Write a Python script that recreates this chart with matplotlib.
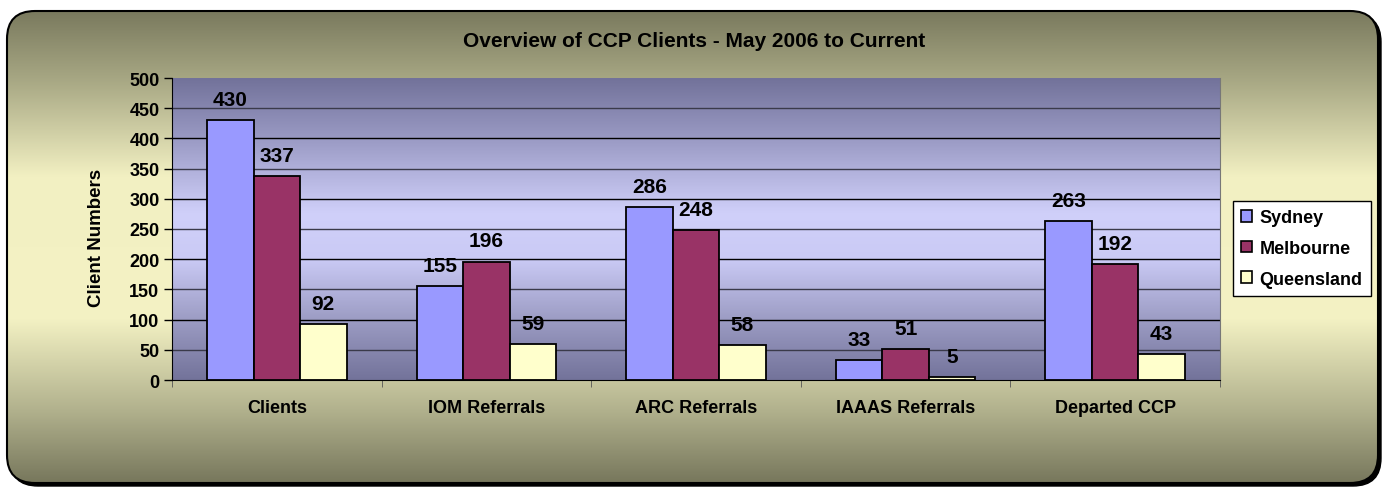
import matplotlib.pyplot as plt
from matplotlib.patches import FancyBboxPatch, Patch
import numpy as np

categories = ["Clients", "IOM Referrals", "ARC Referrals", "IAAAS Referrals", "Departed CCP"]
sydney = [430, 155, 286, 33, 263]
melbourne = [337, 196, 248, 51, 192]
queensland = [92, 59, 58, 5, 43]
series_names = ["Sydney", "Melbourne", "Queensland"]
series_colors = ["#9999ff", "#993366", "#ffffcc"]

plt.rcParams['font.family'] = ['Liberation Sans', 'DejaVu Sans']
plt.rcParams['font.weight'] = 'bold'

W, H = 1388, 489
fig = plt.figure(figsize=(W / 100, H / 100), dpi=100)
fig.patch.set_facecolor('white')


def vgrad(stops, colors, n=400):
    # vertical gradient, row 0 = top
    t = np.linspace(0, 1, n)
    cols = np.array([[int(c[i:i + 2], 16) / 255 for i in (1, 3, 5)] for c in colors])
    img = np.stack([np.interp(t, stops, cols[:, k]) for k in range(3)], axis=-1)
    return np.repeat(img[:, None, :], 2, axis=1)


# outer rounded panel with gradient
bg = fig.add_axes([0, 0, 1, 1], zorder=-10)
bg.axis('off')
shadow = FancyBboxPatch((10, 15), 1371, 472, boxstyle="round,pad=0,rounding_size=28",
                        fc='black', ec='black', lw=1, zorder=-1)
bg.add_patch(shadow)
panel = FancyBboxPatch((7, 12), 1371, 472, boxstyle="round,pad=0,rounding_size=28",
                       fc='none', ec='black', lw=1.5, zorder=2)
bg.add_patch(panel)
outer = vgrad([0, 0.15, 0.35, 0.65, 0.85, 1.0],
              ["#7a7a5e", "#a9a985", "#f2f0c2", "#f4f2c4", "#b0b08c", "#77775c"])
im = bg.imshow(outer, extent=(7, 1378, 484, 12), aspect='auto', zorder=0)
im.set_clip_path(panel)
bg.set_xlim(0, W)
bg.set_ylim(H, 0)

# main plot area
ax = fig.add_axes([172 / W, 1 - 381 / H, (1220 - 172) / W, (381 - 79) / H])
inner = vgrad([0, 0.2, 0.45, 0.6, 0.8, 1.0],
              ["#72729a", "#9a9ac4", "#d0d0fa", "#cacaf5", "#9c9cc4", "#73739a"])
ax.imshow(inner, extent=(-0.5, 4.5, 0, 500), aspect='auto', zorder=0)

for yv in range(50, 500, 50):
    ax.axhline(yv, color='black' if yv % 100 == 0 else '#3a3a4a', lw=1, zorder=1)

x = np.arange(len(categories))
width = 0.222
for i, (vals, name, col) in enumerate(zip([sydney, melbourne, queensland], series_names, series_colors)):
    pos = x + (i - 1) * width
    ax.bar(pos, vals, width, color=col, edgecolor='black', lw=1.3, zorder=3, label=name)
    for px, v in zip(pos, vals):
        ax.annotate(str(v), (px, v), xytext=(0, 15), textcoords='offset points',
                    ha='center', va='center', fontsize=15, fontweight='bold')

ax.set_xlim(-0.5, 4.5)
ax.set_ylim(0, 500)
ax.set_yticks(range(0, 501, 50))
ax.set_xticks(x)
ax.set_xticklabels(categories)
ax.set_xticks(np.arange(-0.5, 5, 1), minor=True)
ax.tick_params(axis='x', which='major', length=0, pad=14, labelsize=13)
ax.tick_params(axis='x', which='minor', length=5, direction='out', color='#555555')
ax.tick_params(axis='y', length=6, width=1, direction='out', pad=3, labelsize=13)
ax.spines['top'].set_visible(False)
ax.spines['right'].set_color('#777777')
ax.spines['left'].set_color('black')
ax.spines['bottom'].set_color('black')

fig.text(96 / W, 1 - 238 / H, "Client Numbers", rotation=90, ha='center', va='center',
         fontsize=13.5, fontweight='bold')
fig.text(0.5, 1 - 42 / H, "Overview of CCP Clients - May 2006 to Current", ha='center',
         va='center', fontsize=15, fontweight='bold')

handles = [Patch(facecolor=c, edgecolor='black', lw=1.2) for c in series_colors]
leg = fig.legend(handles, series_names, loc='center', bbox_to_anchor=(1302 / W, 1 - 249.5 / H),
                 fontsize=13, frameon=True, fancybox=False, edgecolor='black', framealpha=1,
                 handlelength=0.6, handleheight=0.6, handletextpad=0.4, labelspacing=0.75,
                 borderpad=0.45, borderaxespad=0)
leg.get_frame().set_linewidth(1)
leg.get_frame().set_facecolor('white')
for t in leg.get_texts():
    t.set_fontweight('bold')

fig.savefig("out.png", dpi=100)
